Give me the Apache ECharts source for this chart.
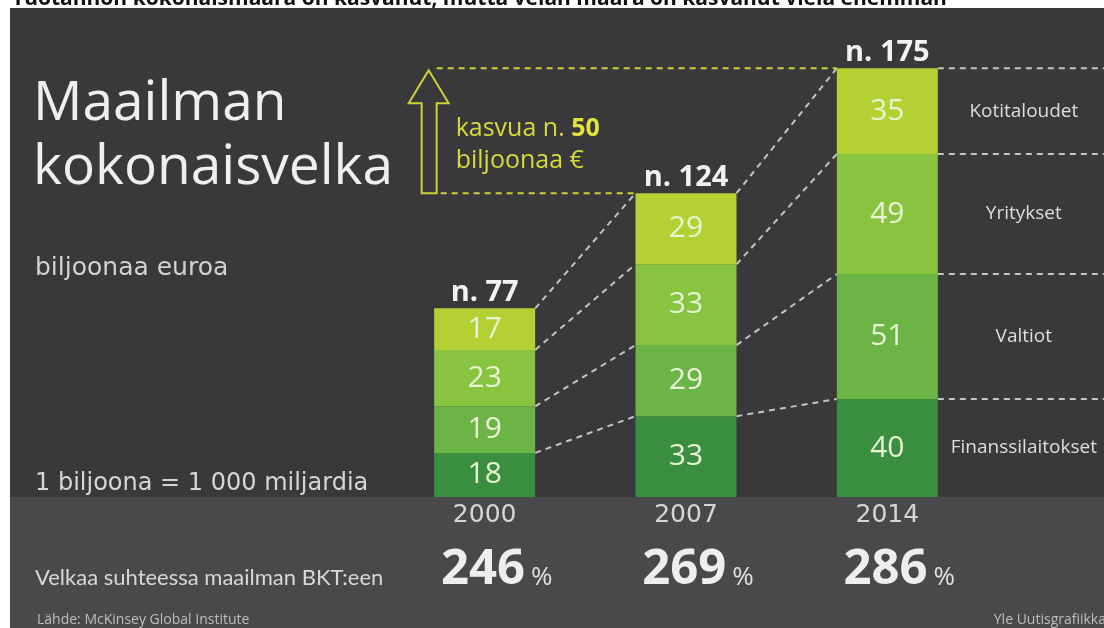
<!DOCTYPE html>
<html>
<head>
<meta charset="utf-8">
<script src="https://cdn.jsdelivr.net/npm/echarts@6/dist/echarts.min.js"></script>
<style>
  html, body { margin: 0; padding: 0; background: #fff; }
  #chart { width: 1104px; height: 628px; }
</style>
</head>
<body>
<div id="chart"></div>
<script>
const years = ['2000', '2007', '2014'];
const sectors = ['Finanssilaitokset', 'Valtiot', 'Yritykset', 'Kotitaloudet'];
const finanssilaitokset = [18, 33, 40];
const valtiot = [19, 29, 51];
const yritykset = [23, 33, 49];
const kotitaloudet = [17, 29, 35];
const totals = [77, 124, 175];
const gdpShare = [246, 269, 286];
const growth = 50;

const layers = [finanssilaitokset, valtiot, yritykset, kotitaloudet];
const sectorColors = ['#3a8e40', '#6cb446', '#88c440', '#b4d032'];

// cumulative tops of each layer, per year
const cum = years.map((y, i) => {
  let s = 0;
  return layers.map(l => (s += l[i]));
});

const BAR_W = 101;
const FONT = '"Open Sans", "Noto Sans", sans-serif';
const WIDE = '"DejaVu Sans", sans-serif';
const NARROW = 'Lato, "Open Sans", sans-serif';
const dash = { stroke: '#c4c4c4', lineWidth: 2, lineDash: [6, 5] };

const chart = echarts.init(document.getElementById('chart'));

const barSeries = sectors.map((name, k) => ({
  name: name,
  type: 'bar',
  stack: 'velka',
  barWidth: BAR_W,
  data: layers[k],
  itemStyle: { color: sectorColors[k] },
  label: {
    show: true,
    position: 'inside',
    color: '#e8f4d4',
    fontFamily: FONT,
    fontSize: 30
  },
  z: 3
}));

const option = {
  backgroundColor: '#ffffff',
  animation: false,
  grid: { left: 384, width: 604, top: 7, bottom: 131 },
  xAxis: [{
    type: 'category',
    data: years,
    axisLine: { show: false },
    axisTick: { show: false },
    axisLabel: { color: '#d6d6d6', fontFamily: WIDE, fontSize: 25, margin: 6 }
  }, {
    type: 'category',
    data: gdpShare,
    position: 'bottom',
    offset: 46,
    axisLine: { show: false },
    axisTick: { show: false },
    axisLabel: {
      margin: 0,
      padding: [0, 0, 0, 24],
      formatter: v => '{n|' + v + '}{p|%}',
      rich: {
        n: { color: '#eeeeee', fontFamily: FONT, fontWeight: 'bold', fontSize: 49, lineHeight: 52, verticalAlign: 'bottom' },
        p: { color: '#e0e0e0', fontFamily: FONT, fontSize: 26, lineHeight: 52, verticalAlign: 'bottom', padding: [0, 0, 4, 6] }
      }
    }
  }],
  yAxis: { type: 'value', min: 0, max: 200, show: false, splitLine: { show: false } },
  graphic: [
    { type: 'rect', z: -10, silent: true, shape: { x: 10, y: 8, width: 1094, height: 489 }, style: { fill: '#39393b' } },
    { type: 'rect', z: -10, silent: true, shape: { x: 10, y: 497, width: 1094, height: 131 }, style: { fill: '#49494b' } },
    { type: 'text', z: -11, x: 12, y: -1, style: { text: 'Tuotannon kokonaismäärä on kasvanut, mutta velan määrä on kasvanut vielä enemmän', font: 'bold 21px ' + FONT, fill: '#111', verticalAlign: 'middle' } },
    { type: 'text', x: 33, y: 104, style: { text: 'Maailman', font: '55px ' + FONT, fill: '#efefef', verticalAlign: 'middle' } },
    { type: 'text', x: 33, y: 168, style: { text: 'kokonaisvelka', font: '55px ' + FONT, fill: '#efefef', verticalAlign: 'middle' } },
    { type: 'text', x: 35, y: 268, style: { text: 'biljoonaa euroa', font: '25px ' + WIDE, fill: '#d2d2d2', verticalAlign: 'middle' } },
    { type: 'text', x: 35, y: 484, style: { text: '1 biljoona = 1 000 miljardia', font: '24px ' + WIDE, fill: '#d6d6d6', verticalAlign: 'middle' } },
    { type: 'text', x: 35, y: 578, style: { text: 'Velkaa suhteessa maailman BKT:een', font: '22px ' + NARROW, fill: '#d8d8d8', verticalAlign: 'middle' } },
    { type: 'text', x: 37, y: 620, style: { text: 'Lähde: McKinsey Global Institute', font: '14px ' + FONT, fill: '#bdbdbd', verticalAlign: 'middle' } },
    { type: 'text', x: 1106, y: 620, style: { text: 'Yle Uutisgrafiikka', font: '14px ' + FONT, fill: '#bdbdbd', align: 'right', verticalAlign: 'middle' } }
  ],
  series: barSeries.concat([
    {
      // dashed connectors between bars, guide lines and sector names on the right
      name: 'connectors',
      type: 'custom',
      coordinateSystem: 'cartesian2d',
      data: sectors.map((s, k) => [2, cum[2][k]]),
      z: 2,
      renderItem: function (params, api) {
        const k = params.dataIndex;
        const children = [];
        for (let i = 0; i < years.length; i++) {
          const a = api.coord([i, cum[i][k]]);
          let x2, y2;
          if (i < years.length - 1) {
            const b = api.coord([i + 1, cum[i + 1][k]]);
            x2 = b[0] - BAR_W / 2; y2 = b[1];
          } else {
            x2 = api.getWidth(); y2 = a[1];
          }
          children.push({ type: 'line', shape: { x1: a[0] + BAR_W / 2, y1: a[1], x2: x2, y2: y2 }, style: dash });
        }
        const last = years.length - 1;
        const mid = api.coord([last, cum[last][k] - layers[k][last] / 2]);
        children.push({
          type: 'text',
          style: { text: sectors[k], x: mid[0] + BAR_W / 2 + 86, y: mid[1], align: 'center', verticalAlign: 'middle', font: '19px ' + FONT, fill: '#dedede' }
        });
        return { type: 'group', children: children };
      }
    },
    {
      // totals above bars
      name: 'totals',
      type: 'custom',
      coordinateSystem: 'cartesian2d',
      data: totals.map((t, i) => [i, t]),
      z: 4,
      renderItem: function (params, api) {
        const p = api.coord([api.value(0), api.value(1)]);
        return {
          type: 'text',
          style: { text: 'n. ' + totals[params.dataIndex], x: p[0], y: p[1] - 1, align: 'center', verticalAlign: 'bottom', font: 'bold 29px ' + FONT, fill: '#f2f2f2' }
        };
      }
    },
    {
      // growth annotation: arrow, yellow guides and text
      name: 'growth',
      type: 'custom',
      coordinateSystem: 'cartesian2d',
      data: [[1, totals[1]]],
      z: 4,
      renderItem: function (params, api) {
        const lo = api.coord([1, totals[1]]);
        const hi = api.coord([2, totals[2]]);
        const ax = api.coord([0, 0])[0] - 56;
        const yellow = '#cfcf3a';
        const headY = hi[1] + 35;
        return {
          type: 'group',
          children: [
            { type: 'polygon', shape: { points: [[ax, hi[1] + 2], [ax + 20, headY], [ax + 8, headY], [ax + 8, lo[1]], [ax - 7, lo[1]], [ax - 7, headY], [ax - 20, headY]] }, style: { fill: 'none', stroke: yellow, lineWidth: 2 } },
            { type: 'line', shape: { x1: ax + 8, y1: hi[1], x2: hi[0] - BAR_W / 2, y2: hi[1] }, style: { stroke: yellow, lineWidth: 2, lineDash: [6, 5] } },
            { type: 'line', shape: { x1: ax + 12, y1: lo[1], x2: lo[0] - BAR_W / 2, y2: lo[1] }, style: { stroke: yellow, lineWidth: 2, lineDash: [6, 5] } },
            {
              type: 'text',
              style: {
                text: 'kasvua n. {b|' + growth + '}\nbiljoonaa €',
                x: ax + 27, y: hi[1] + 45,
                font: '25px ' + FONT, fill: '#d6da3c', lineHeight: 32,
                rich: { b: { font: 'bold 25px ' + FONT, fill: '#e2e43a' } }
              }
            }
          ]
        };
      }
    }
  ])
};

chart.setOption(option);
</script>
</body>
</html>
